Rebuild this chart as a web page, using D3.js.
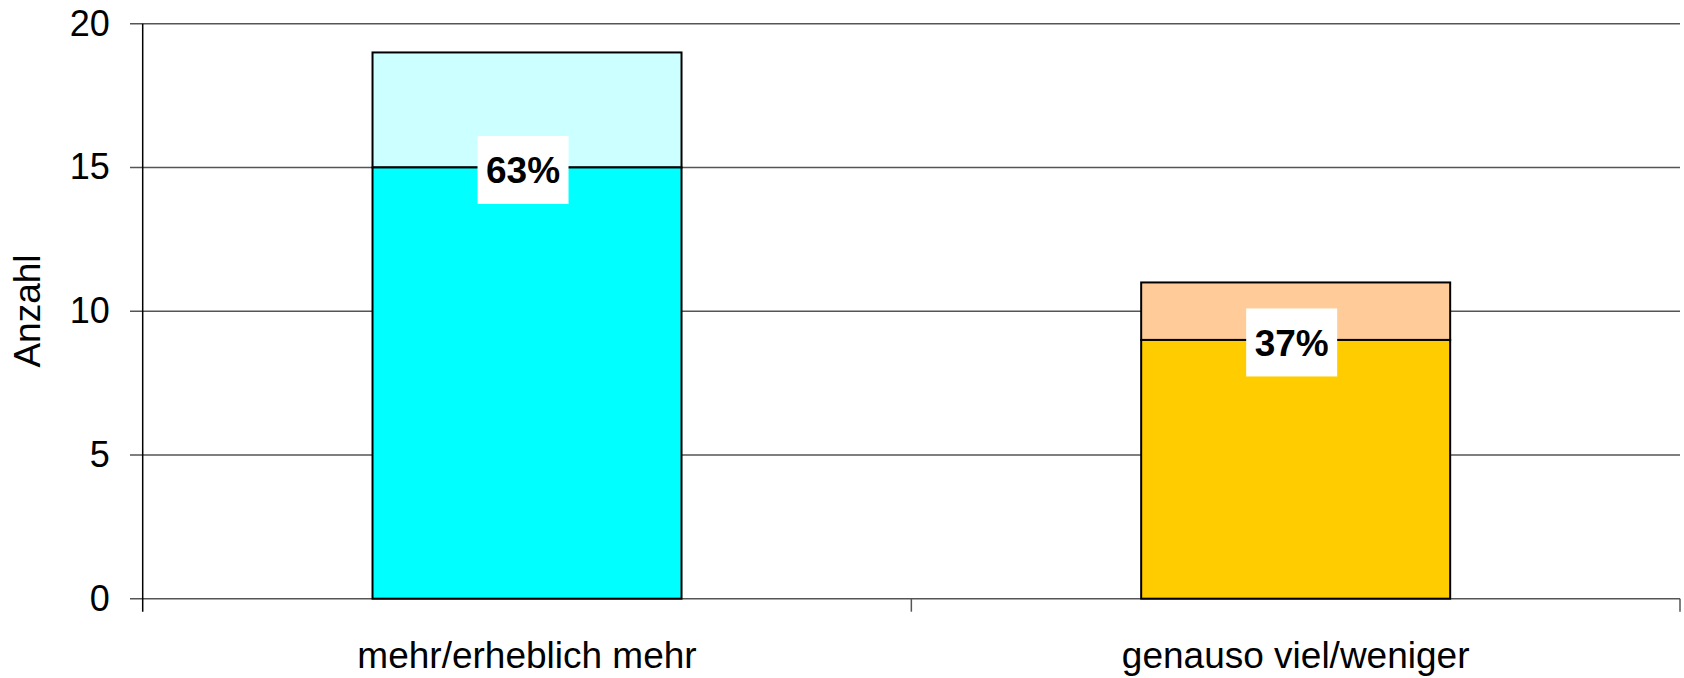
<!DOCTYPE html>
<html>
<head>
<meta charset="utf-8">
<script src="https://cdn.jsdelivr.net/npm/d3@7"></script>
<style>
  body { margin: 0; background: #fff; }
  svg { display: block; font-family: "Liberation Sans", Arial, sans-serif; }
</style>
</head>
<body>
<div id="chart"></div>
<script>
// chart data
var categories = ["mehr/erheblich mehr", "genauso viel/weniger"];
var lowerValues = [15, 9];
var upperValues = [4, 2];
var percentLabels = ["63%", "37%"];
var yTicks = [0, 5, 10, 15, 20];
var lowerColors = ["#00FFFF", "#FFCC00"];
var upperColors = ["#CCFFFF", "#FFCC99"];

document.addEventListener('DOMContentLoaded', function() {
    var totalW = 1684, totalH = 678;
    var margin = { top: 23.7, right: 4, bottom: 79.3, left: 142.7 },
        width = totalW - margin.left - margin.right,
        height = totalH - margin.top - margin.bottom;

    var svg = d3.select("#chart")
        .append("svg")
        .attr("width", totalW)
        .attr("height", totalH);

    var g = svg.append("g")
        .attr("transform", "translate(" + margin.left + "," + margin.top + ")");

    var x = d3.scaleBand()
        .domain(categories)
        .range([0, width])
        .paddingInner(0.598)
        .paddingOuter(0.299);

    var y = d3.scaleLinear()
        .domain([0, 20])
        .range([height, 0]);

    // gridlines + y ticks
    g.selectAll(".grid")
        .data(yTicks)
        .enter().append("line")
        .attr("class", "grid")
        .attr("x1", -12.7)
        .attr("x2", width)
        .attr("y1", function(d) { return y(d); })
        .attr("y2", function(d) { return y(d); })
        .attr("stroke", "#555")
        .attr("stroke-width", 1.6);

    var yAxis = d3.axisLeft(y).tickValues(yTicks).tickSize(0).tickPadding(33);
    var ya = g.append("g").call(yAxis);
    ya.select(".domain").remove();
    ya.selectAll("text")
        .attr("font-size", 36)
        .attr("fill", "#000")
        .attr("font-family", "'Liberation Sans', Arial, sans-serif");

    // bars (stacked)
    var rows = categories.map(function(c, i) {
        return { cat: c, lower: lowerValues[i], upper: upperValues[i], label: percentLabels[i], i: i };
    });

    var bars = g.selectAll(".bar")
        .data(rows)
        .enter().append("g")
        .attr("class", "bar");

    bars.append("rect")
        .attr("x", function(d) { return x(d.cat); })
        .attr("width", x.bandwidth())
        .attr("y", function(d) { return y(d.lower + d.upper); })
        .attr("height", function(d) { return y(d.lower) - y(d.lower + d.upper); })
        .attr("fill", function(d) { return upperColors[d.i]; })
        .attr("stroke", "#000")
        .attr("stroke-width", 2);

    bars.append("rect")
        .attr("x", function(d) { return x(d.cat); })
        .attr("width", x.bandwidth())
        .attr("y", function(d) { return y(d.lower); })
        .attr("height", function(d) { return y(0) - y(d.lower); })
        .attr("fill", function(d) { return lowerColors[d.i]; })
        .attr("stroke", "#000")
        .attr("stroke-width", 2);

    // y axis line
    g.append("line")
        .attr("x1", 0).attr("x2", 0)
        .attr("y1", 0).attr("y2", height + 13)
        .attr("stroke", "#000")
        .attr("stroke-width", 1.5);

    // x category boundary ticks
    var bounds = [0, width / 2, width];
    g.selectAll(".xtick")
        .data(bounds.slice(1))
        .enter().append("line")
        .attr("x1", function(d) { return d; })
        .attr("x2", function(d) { return d; })
        .attr("y1", height)
        .attr("y2", height + 13)
        .attr("stroke", "#555")
        .attr("stroke-width", 1.5);

    // category labels
    g.selectAll(".cat")
        .data(rows)
        .enter().append("text")
        .attr("x", function(d) { return x(d.cat) + x.bandwidth() / 2; })
        .attr("y", height + 69)
        .attr("text-anchor", "middle")
        .attr("font-size", 37)
        .attr("fill", "#000")
        .text(function(d) { return d.cat; });

    // percent labels with white box
    var lab = g.selectAll(".pct")
        .data(rows)
        .enter().append("g")
        .attr("class", "pct")
        .attr("transform", function(d) {
            return "translate(" + (x(d.cat) + x.bandwidth() / 2 - 4) + "," + (y(d.lower) + 2.5) + ")";
        });

    lab.append("rect")
        .attr("x", -45.5)
        .attr("y", -34)
        .attr("width", 91)
        .attr("height", 68)
        .attr("fill", "#fff");

    lab.append("text")
        .attr("text-anchor", "middle")
        .attr("y", 13.5)
        .attr("font-size", 37)
        .attr("font-weight", "bold")
        .attr("fill", "#000")
        .text(function(d) { return d.label; });

    // y axis title
    svg.append("text")
        .attr("transform", "translate(40," + 311 + ") rotate(-90)")
        .attr("text-anchor", "middle")
        .attr("font-size", 37)
        .attr("fill", "#000")
        .text("Anzahl");
});
</script>
</body>
</html>
